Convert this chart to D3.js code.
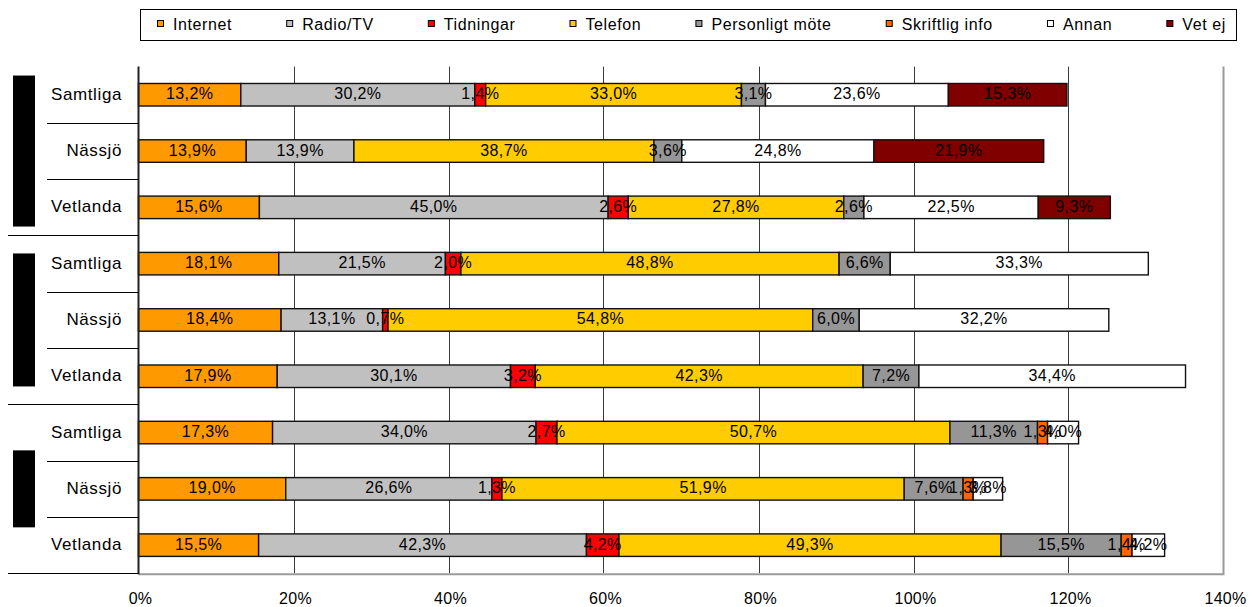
<!DOCTYPE html>
<html>
<head>
<meta charset="utf-8">
<script src="https://cdn.jsdelivr.net/npm/d3@7"></script>
<style>
  body { margin: 0; background: #fff; }
  text { font-family: Arial, "Liberation Sans", sans-serif; }
</style>
</head>
<body>
<script>
// rows of the chart, three groups of three (group titles are blacked out)
const rowNames = ["Samtliga", "Nässjö", "Vetlanda", "Samtliga", "Nässjö", "Vetlanda", "Samtliga", "Nässjö", "Vetlanda"];
const groupOf = [0, 0, 0, 1, 1, 1, 2, 2, 2];

const seriesNames = ["Internet", "Radio/TV", "Tidningar", "Telefon", "Personligt möte", "Skriftlig info", "Annan", "Vet ej"];
const seriesColors = ["#FF9900", "#C0C0C0", "#FF0000", "#FFCC00", "#969696", "#FF6600", "#FFFFFF", "#800000"];

// values in percent, one per row
const internet   = [13.2, 13.9, 15.6, 18.1, 18.4, 17.9, 17.3, 19.0, 15.5];
const radioTv    = [30.2, 13.9, 45.0, 21.5, 13.1, 30.1, 34.0, 26.6, 42.3];
const tidningar  = [1.4, 0, 2.6, 2.0, 0.7, 3.2, 2.7, 1.3, 4.2];
const telefon    = [33.0, 38.7, 27.8, 48.8, 54.8, 42.3, 50.7, 51.9, 49.3];
const personligt = [3.1, 3.6, 2.6, 6.6, 6.0, 7.2, 11.3, 7.6, 15.5];
const skriftlig  = [0, 0, 0, 0, 0, 0, 1.3, 1.3, 1.4];
const annan      = [23.6, 24.8, 22.5, 33.3, 32.2, 34.4, 4.0, 3.8, 4.2];
const vetEj      = [15.3, 21.9, 9.3, 0, 0, 0, 0, 0, 0];

const xTicks = [0, 20, 40, 60, 80, 100, 120, 140];

const seriesValues = [internet, radioTv, tidningar, telefon, personligt, skriftlig, annan, vetEj];

// table for d3.stack
const table = rowNames.map((name, i) => {
  const o = { row: i };
  seriesNames.forEach((s, j) => { o[s] = seriesValues[j][i]; });
  return o;
});

const W = 1255, H = 607;
const plot = { left: 138.5, right: 1223.5, top: 66.6, bottom: 573.3 };

const svg = d3.select("body").append("svg")
  .attr("width", W)
  .attr("height", H);

svg.append("rect").attr("width", W).attr("height", H).attr("fill", "#fff");

const x = d3.scaleLinear()
  .domain([0, 140])
  .range([plot.left, plot.right]);

const y = d3.scaleBand()
  .domain(d3.range(rowNames.length))
  .range([plot.top, plot.bottom])
  .paddingInner(0.6)
  .paddingOuter(0.3);

const step = y.step();

// gridlines
svg.append("g")
  .selectAll("line")
  .data(xTicks.filter(t => t > 0 && t < 140))
  .join("line")
  .attr("x1", d => Math.round(x(d)) + 0.5)
  .attr("x2", d => Math.round(x(d)) + 0.5)
  .attr("y1", plot.top)
  .attr("y2", plot.bottom)
  .attr("stroke", "#3a3a3a")
  .attr("stroke-width", 1);

// plot area border (right + bottom, grey)
svg.append("path")
  .attr("d", "M" + x(140) + "," + plot.top + "V" + (plot.bottom + 1) + "H" + plot.left)
  .attr("fill", "none")
  .attr("stroke", "#9a9a9a")
  .attr("stroke-width", 2);

// stacked bars
const stack = d3.stack().keys(seriesNames);
const layers = stack(table);

const fmt = v => d3.format(".1f")(v).replace(".", ",") + "%";

const gLayer = svg.append("g")
  .selectAll("g")
  .data(layers)
  .join("g")
  .attr("fill", (d, i) => seriesColors[i]);

gLayer.selectAll("rect")
  .data(d => d.filter(p => p[1] - p[0] > 0))
  .join("rect")
  .attr("x", d => x(d[0]))
  .attr("y", d => y(d.data.row))
  .attr("width", d => x(d[1]) - x(d[0]))
  .attr("height", y.bandwidth())
  .attr("stroke", "#111")
  .attr("stroke-width", 1.4);

// data labels
const labels = [];
layers.forEach(layer => {
  layer.forEach(p => {
    const v = p[1] - p[0];
    if (v > 0) labels.push({ x: (p[0] + p[1]) / 2, row: p.data.row, v: v });
  });
});

svg.append("g")
  .selectAll("text")
  .data(labels)
  .join("text")
  .attr("x", d => x(d.x))
  .attr("y", d => y(d.row) + y.bandwidth() / 2 + 4.5)
  .attr("text-anchor", "middle")
  .attr("font-size", 16)
  .attr("letter-spacing", 0.4)
  .attr("fill", "#000")
  .text(d => fmt(d.v));

// left value axis line
svg.append("line")
  .attr("x1", plot.left).attr("x2", plot.left)
  .attr("y1", plot.top).attr("y2", plot.bottom + 1)
  .attr("stroke", "#222")
  .attr("stroke-width", 2);

// x axis labels
const xAxis = d3.axisBottom(x)
  .tickValues(xTicks)
  .tickSize(0)
  .tickPadding(0)
  .tickFormat(d => d + "%");

const gx = svg.append("g")
  .attr("transform", "translate(1.5," + (plot.bottom + 19) + ")")
  .call(xAxis);
gx.select(".domain").remove();
gx.selectAll("text")
  .attr("font-size", 16)
  .attr("font-family", "Arial, 'Liberation Sans', sans-serif")
  .attr("letter-spacing", 0.3)
  .attr("fill", "#000");

// category labels
svg.append("g")
  .selectAll("text")
  .data(rowNames)
  .join("text")
  .attr("x", 122)
  .attr("y", (d, i) => y(i) + y.bandwidth() / 2 + 5)
  .attr("text-anchor", "end")
  .attr("font-size", 17)
  .attr("letter-spacing", 0.6)
  .attr("fill", "#000")
  .text(d => d);

// separators between rows and groups
const bounds = d3.range(1, rowNames.length + 1);
svg.append("g")
  .selectAll("line")
  .data(bounds)
  .join("line")
  .attr("x1", i => (i === rowNames.length || groupOf[i] !== groupOf[i - 1]) ? 8 : 47)
  .attr("x2", plot.left)
  .attr("y1", i => Math.round(plot.top + i * step) + 0.5)
  .attr("y2", i => Math.round(plot.top + i * step) + 0.5)
  .attr("stroke", "#000")
  .attr("stroke-width", 1);

// redacted group titles (black blocks), centred on each group
const groupBlockLen = [151, 133, 77];
svg.append("g")
  .selectAll("rect")
  .data([0, 1, 2])
  .join("rect")
  .attr("x", 13)
  .attr("width", 22)
  .attr("y", g => plot.top + (g * 3 + 1.5) * step - groupBlockLen[g] / 2)
  .attr("height", g => groupBlockLen[g])
  .attr("fill", "#000");

// legend
const legend = svg.append("g");
legend.append("rect")
  .attr("x", 140.5).attr("y", 9.5)
  .attr("width", 1096).attr("height", 31)
  .attr("fill", "#fff")
  .attr("stroke", "#000")
  .attr("stroke-width", 1);

const items = legend.selectAll("g")
  .data(seriesNames)
  .join("g");

items.append("text")
  .attr("font-size", 16)
  .attr("letter-spacing", 0.6)
  .attr("y", 30)
  .attr("fill", "#000")
  .text(d => d);

const widths = [];
items.select("text").each(function() { widths.push(this.getComputedTextLength()); });
const startX = 157, endX = 1226, sqGap = 16;
const totalText = d3.sum(widths) + sqGap * seriesNames.length;
const gap = (endX - startX - totalText) / (seriesNames.length - 1);
let cx = startX;
items.each(function(d, i) {
  const g = d3.select(this);
  g.insert("rect", "text")
    .attr("x", cx + 0.5).attr("y", 20.5)
    .attr("width", 6).attr("height", 6)
    .attr("fill", seriesColors[i])
    .attr("stroke", "#000")
    .attr("stroke-width", 1);
  g.select("text").attr("x", cx + sqGap);
  cx += sqGap + widths[i] + gap;
});
</script>
</body>
</html>
